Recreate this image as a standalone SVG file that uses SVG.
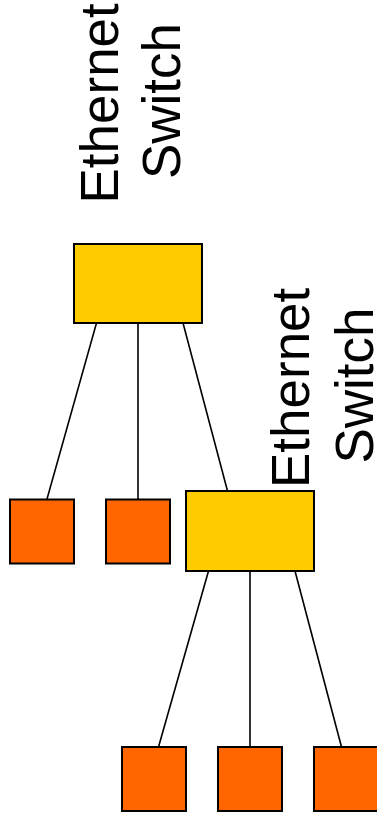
<svg xmlns="http://www.w3.org/2000/svg" width="377" height="822" viewBox="0 0 377 822">
  <style>
    .switch { fill: #FFCC00; stroke: #000; stroke-width: 2; }
    .host { fill: #FF6600; stroke: #000; stroke-width: 2; }
    .link { stroke: #000; stroke-width: 1.6; fill: none; }
    .label { font-family: "Liberation Sans", Arial, sans-serif; font-size: 53px; fill: #000; text-anchor: middle; }
  </style>
  <rect width="377" height="822" fill="#fff"/>

  <!-- links -->
  <g id="connectors">
    <line class="link" x1="96.5" y1="323" x2="47" y2="499"/>
    <line class="link" x1="138" y1="323" x2="138" y2="499"/>
    <line class="link" x1="183" y1="323" x2="227.5" y2="491"/>
    <line class="link" x1="208.5" y1="571" x2="158.5" y2="747"/>
    <line class="link" x1="250" y1="571" x2="250" y2="747"/>
    <line class="link" x1="295" y1="571" x2="341.5" y2="747"/>
  </g>

  <!-- upper switch -->
  <g id="switch1">
    <rect class="switch" x="74" y="244" width="128" height="79"/>
    <text class="label" transform="translate(118,101) rotate(-90)">
      <tspan x="5" y="0">Ethernet</tspan>
      <tspan x="0" y="62">Switch</tspan>
    </text>
  </g>

  <!-- lower switch -->
  <g id="switch2">
    <rect class="switch" x="186" y="491" width="128" height="80"/>
    <text class="label" transform="translate(308.5,385.5) rotate(-90)">
      <tspan x="5" y="0">Ethernet</tspan>
      <tspan x="0" y="64">Switch</tspan>
    </text>
  </g>

  <!-- hosts -->
  <g id="host1"><rect class="host" x="10" y="499.5" width="64" height="64"/></g>
  <g id="host2"><rect class="host" x="106" y="499.5" width="64" height="64"/></g>
  <g id="host3"><rect class="host" x="122" y="747" width="64" height="64"/></g>
  <g id="host4"><rect class="host" x="218" y="747" width="64" height="64"/></g>
  <g id="host5"><rect class="host" x="314" y="747" width="64" height="64"/></g>
</svg>
